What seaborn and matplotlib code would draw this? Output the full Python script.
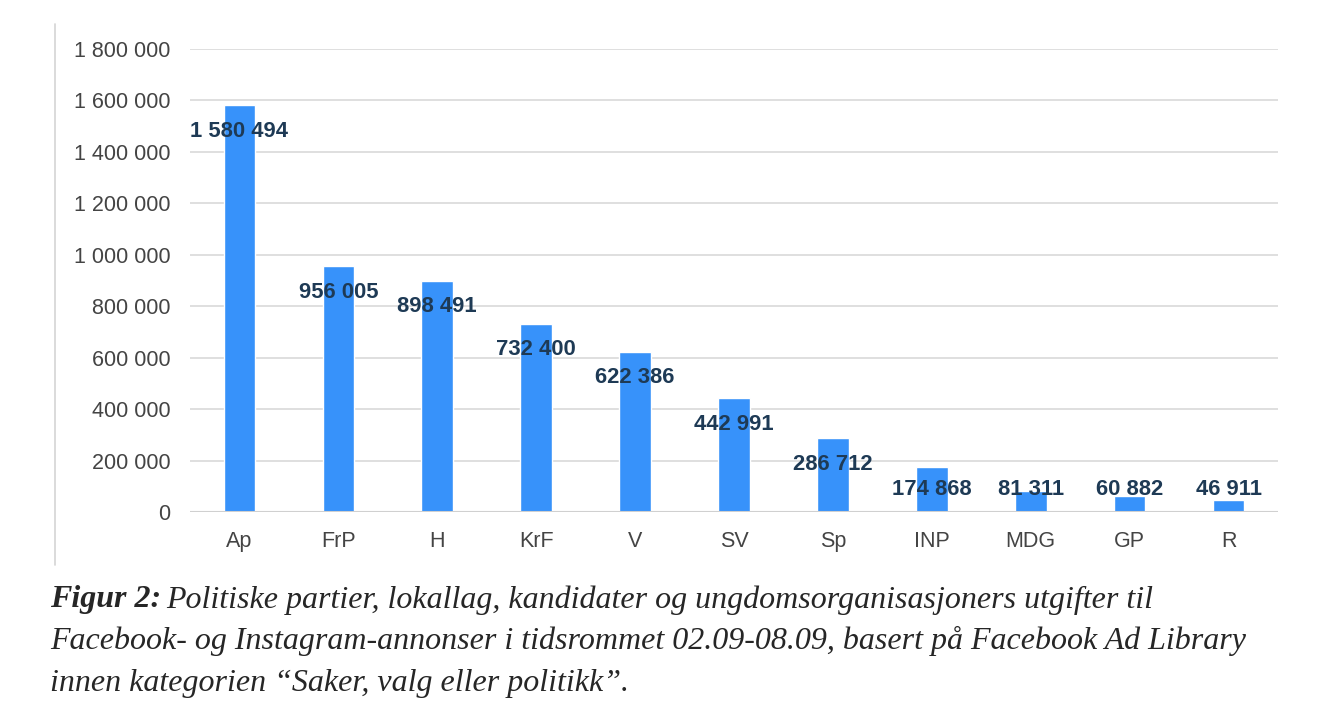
import pandas as pd
import matplotlib.pyplot as plt
import matplotlib.ticker as mticker
from matplotlib.lines import Line2D
import seaborn as sns

parties = ["Ap", "FrP", "H", "KrF", "V", "SV", "Sp", "INP", "MDG", "GP", "R"]
spend = [1580494, 956005, 898491, 732400, 622386, 442991, 286712, 174868, 81311, 60882, 46911]
y_ticks = [0, 200000, 400000, 600000, 800000, 1000000, 1200000, 1400000, 1600000, 1800000]

BAR_COLOR = "#3792FA"
LABEL_COLOR = "#1E3A55"


def space_fmt(v):
    return f"{int(round(v)):,}".replace(",", " ")


def main():
    sns.set_style("white")
    plt.rcParams["font.family"] = ["Liberation Sans", "DejaVu Sans"]

    df = pd.DataFrame({"party": parties, "spend": spend})

    fig = plt.figure(figsize=(13.23, 7.28), dpi=100)
    ax = fig.add_axes([0.1436, 0.2967, 0.966 - 0.1436, 0.9327 - 0.2967])

    sns.barplot(data=df, x="party", y="spend", color=BAR_COLOR, width=0.32,
                saturation=1, ax=ax, zorder=3)

    ax.set_ylim(0, 1800000)
    ax.set_xlim(-0.5, len(parties) - 0.5)
    ax.set_yticks(y_ticks)
    ax.yaxis.set_major_formatter(mticker.FuncFormatter(lambda v, p: space_fmt(v)))
    ax.grid(axis="y", color="#d9d9d9", linewidth=1.2, zorder=0)
    ax.set_axisbelow(True)
    for s in ["top", "right", "left", "bottom"]:
        ax.spines[s].set_visible(False)
    ax.axhline(0, color="#d0d0d0", linewidth=1.5, zorder=4)
    ax.tick_params(axis="y", length=0, pad=14, labelsize=15.5, labelcolor="#444444")
    ax.tick_params(axis="x", length=0, pad=14, labelsize=15.5, labelcolor="#444444")
    ax.set_xlabel("")
    ax.set_ylabel("")

    # value labels just under the bar top (kept above the baseline for short bars)
    for i, v in enumerate(spend):
        ypos = max(v - 101000, 89000)
        ax.text(i, ypos, space_fmt(v), ha="center", va="center", fontsize=15.8,
                fontweight="bold", color=LABEL_COLOR, zorder=5)

    # thin vertical frame line on the left
    fig.add_artist(Line2D([55 / 1323, 55 / 1323], [1 - 24 / 728, 1 - 565 / 728],
                          color="#d4d4d4", linewidth=1.2, transform=fig.transFigure))

    # caption
    cap_font = ["Liberation Serif", "DejaVu Serif"]
    cap_size = 23
    x0 = 50 / 1323
    lines_y = [1 - 600 / 728, 1 - 641 / 728, 1 - 683 / 728]
    t0 = fig.text(x0, lines_y[0], "Figur 2:", family=cap_font, fontsize=cap_size,
                  fontweight="bold", style="italic", va="center", ha="left")
    fig.canvas.draw()
    bb = t0.get_window_extent()
    fig.text(bb.x1 / fig.bbox.width + 0.004, lines_y[0],
             "Politiske partier, lokallag, kandidater og ungdomsorganisasjoners utgifter til",
             family=cap_font, fontsize=cap_size, style="italic", va="center", ha="left")
    fig.text(x0, lines_y[1],
             "Facebook- og Instagram-annonser i tidsrommet 02.09-08.09, basert på Facebook Ad Library",
             family=cap_font, fontsize=cap_size, style="italic", va="center", ha="left")
    fig.text(x0, lines_y[2], "innen kategorien \u201cSaker, valg eller politikk\u201d.",
             family=cap_font, fontsize=cap_size, style="italic", va="center", ha="left")

    fig.savefig("out.png", dpi=100)
    plt.close(fig)


if __name__ == "__main__":
    main()
